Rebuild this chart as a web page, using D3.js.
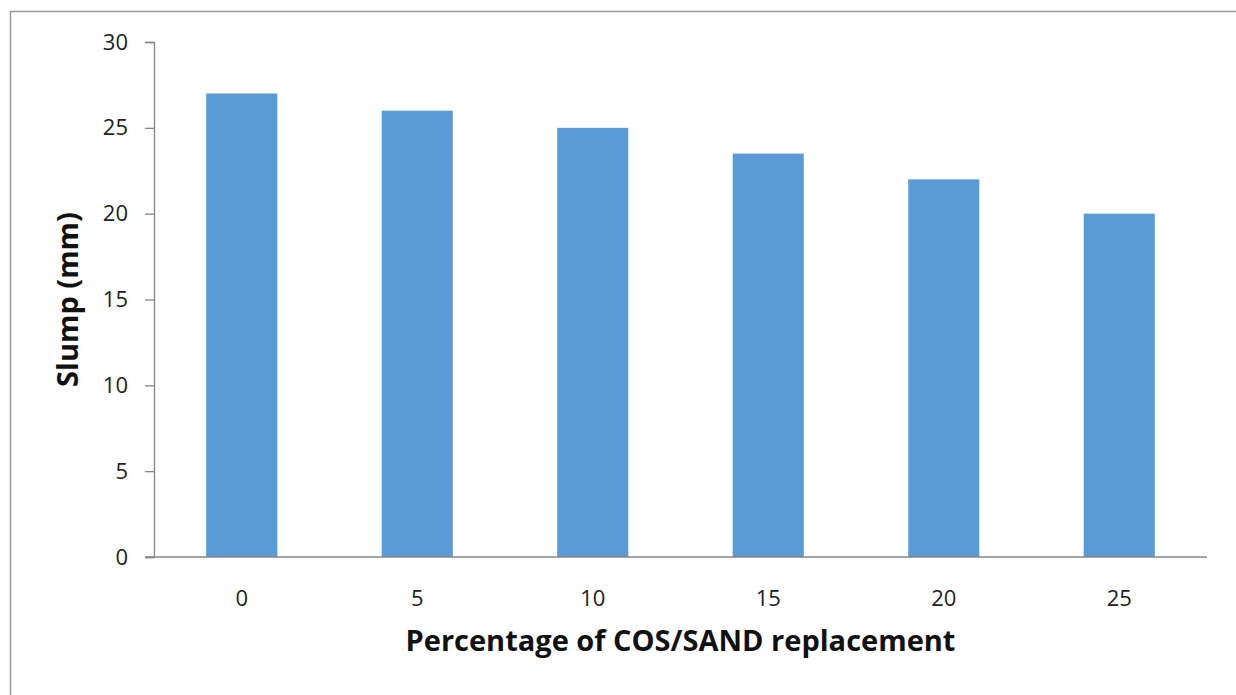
<!DOCTYPE html>
<html><head><meta charset="utf-8">
<script src="https://cdn.jsdelivr.net/npm/d3@7"></script>
<style>body{margin:0;background:#fff;}svg{display:block;}</style>
</head><body>
<svg id="c" width="1236" height="695"></svg>
<script>
const categories = ["0","5","10","15","20","25"];
const values = [27, 26, 25, 23.5, 22, 20];
const yTicks = [0,5,10,15,20,25,30];
const xTitle = "Percentage of COS/SAND replacement";
const yTitle = "Slump (mm)";

const svg = d3.select("#c");
const font = "'Open Sans', 'DejaVu Sans', sans-serif";
svg.append("rect").attr("x",10.5).attr("y",11.5).attr("width",1240).attr("height",700)
  .attr("fill","#fff").attr("stroke","#9a9a9a").attr("stroke-width",1.5);

const L=154, R=1207, T=42, B=557;
const x = d3.scaleBand().domain(categories).range([L,R]).paddingInner(0.595).paddingOuter(0.2975);
const y = d3.scaleLinear().domain([0,30]).range([B,T]);

svg.selectAll(".bar").data(values).enter().append("rect")
  .attr("x",(d,i)=>x(categories[i])).attr("width",x.bandwidth())
  .attr("y",d=>y(d)).attr("height",d=>B-y(d)).attr("fill","#5b9bd5");

const ya = svg.append("g").attr("transform",`translate(${L},0)`)
  .call(d3.axisLeft(y).tickValues(yTicks).tickSize(9).tickPadding(17));
ya.select(".domain").attr("stroke","#868686").attr("stroke-width",1.3);
ya.selectAll(".tick line").attr("stroke","#868686").attr("stroke-width",1.3);
ya.selectAll("text").attr("font-family",font).attr("font-size",22).attr("fill","#222");

const xa = svg.append("g").attr("transform",`translate(0,${B})`)
  .call(d3.axisBottom(x).tickSize(0).tickPadding(33));
xa.select(".domain").attr("d",`M${L-9},0H${R}`).attr("stroke","#868686").attr("stroke-width",1.3);
xa.selectAll("text").attr("font-family",font).attr("font-size",22).attr("fill","#222");

svg.append("text").attr("x",(L+R)/2).attr("y",651).attr("text-anchor","middle")
  .attr("font-family",font).attr("font-weight","bold").attr("font-size",29).attr("fill","#111").text(xTitle);
svg.append("text").attr("transform",`translate(78,${(T+B)/2}) rotate(-90)`).attr("text-anchor","middle")
  .attr("font-family",font).attr("font-weight","bold").attr("font-size",29).attr("fill","#111").text(yTitle);
</script>
</body></html>
